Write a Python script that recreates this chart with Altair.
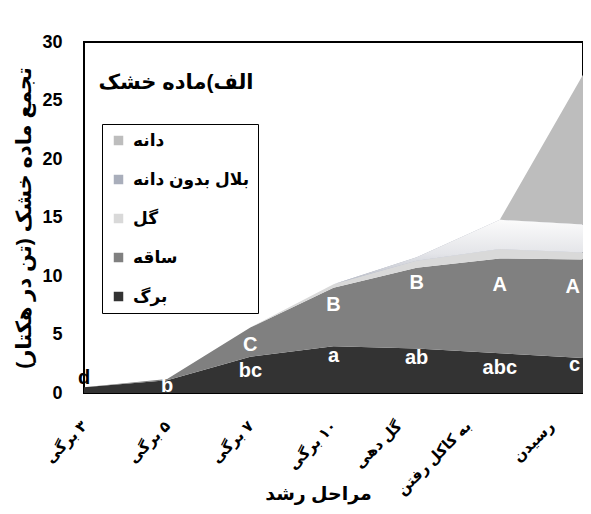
import altair as alt
import pandas as pd

# ---- data ----
stages = ["۳ برگی", "۵ برگی", "۷ برگی", "۱۰ برگی", "گل دهی", "به کاکل رفتن", "رسیدن"]
series_names = ["برگ", "ساقه", "گل", "بلال بدون دانه", "دانه"]
leaf = [0.5, 1.1, 3.1, 4.0, 3.8, 3.4, 3.0]
stem = [0.0, 0.1, 2.5, 5.0, 6.9, 8.1, 8.4]
flower = [0.0, 0.0, 0.0, 0.3, 0.6, 0.8, 0.6]
ear = [0.0, 0.0, 0.0, 0.0, 0.3, 2.5, 2.4]
grain = [0.0, 0.0, 0.0, 0.0, 0.0, 0.0, 12.8]

leaf_letters = ["d", "b", "bc", "a", "ab", "abc", "c"]
leaf_letter_y = [1.3, 0.6, 1.9, 3.2, 3.0, 2.1, 2.4]
stem_letters = ["", "", "C", "B", "B", "A", "A"]
stem_letter_y = [0, 0, 4.1, 7.5, 9.4, 9.2, 9.1]

legend_order = ["دانه", "بلال بدون دانه", "گل", "ساقه", "برگ"]
legend_colors = ["#bdbdbd", "#a9aebb", "#d9d9d9", "#808080", "#333333"]

FONT = "Liberation Sans, DejaVu Sans, sans-serif"
RLM = "\u200f"

# ---- build tables ----
rows = []
for i, st in enumerate(stages):
    base = 0.0
    for name, vals in zip(series_names, [leaf, stem, flower, ear, grain]):
        rows.append(dict(stage=st, series=name, y0=base, y1=base + vals[i], idx=i))
        base += vals[i]
df = pd.DataFrame(rows)

lab_rows = []
for i, st in enumerate(stages):
    lab_rows.append(dict(stage=st, letter=leaf_letters[i], y=leaf_letter_y[i], idx=i, kind="leaf"))
    if stem_letters[i]:
        lab_rows.append(dict(stage=st, letter=stem_letters[i], y=stem_letter_y[i], idx=i, kind="stem"))
labs = pd.DataFrame(lab_rows)

label_offset = {
    "condition": [
        {"test": f"datum.value === '{stages[4]}'", "value": -18},
        {"test": f"datum.value === '{stages[5]}' || datum.value === '{stages[6]}'", "value": -32},
    ],
    "value": 0,
}

x_enc = alt.X(
    "stage:N",
    sort=stages,
    scale=alt.Scale(type="point", padding=0),
    axis=alt.Axis(
        title="مراحل رشد",
        labelAngle=-45,
        labelAlign="right",
        labelBaseline="middle",
        labelPadding=30,
        labelOffset=label_offset,
        labelFontSize=15,
        labelFontWeight="bold",
        labelFont=FONT,
        labelColor="black",
        labelExpr=f"'{RLM}' + datum.label",
        ticks=False,
        domain=False,
        grid=False,
        titleFontSize=19,
        titleFont=FONT,
        titleFontWeight="bold",
        titleColor="black",
        titleX=234,
        titleY=100,
        titleBaseline="middle",
        labelOverlap=False,
    ),
)

y_scale = alt.Scale(domain=[0, 30], nice=False, zero=True)
y_enc = alt.Y(
    "y1:Q",
    scale=y_scale,
    axis=alt.Axis(
        title="تجمع ماده خشک (تن در هکتار)" + RLM,
        values=[0, 5, 10, 15, 20, 25, 30],
        ticks=False,
        domain=False,
        grid=False,
        labelFontSize=18,
        labelFontWeight="bold",
        labelFont=FONT,
        labelColor="black",
        labelPadding=22,
        titleFontSize=21,
        titleFont=FONT,
        titleFontWeight="bold",
        titleColor="black",
        titleX=-60,
        titleBaseline="middle",
    ),
)

areas = alt.Chart(df).mark_area(interpolate="linear", opacity=1).encode(
    x=x_enc,
    y=y_enc,
    y2="y0:Q",
    color=alt.Color(
        "series:N",
        scale=alt.Scale(domain=legend_order, range=legend_colors),
        legend=alt.Legend(
            title=None,
            orient="none",
            legendX=18,
            legendY=82,
            symbolType="square",
            symbolSize=90,
            symbolStrokeWidth=0,
            labelFontSize=17,
            labelFont=FONT,
            labelFontWeight="bold",
            labelColor="black",
            labelOffset=6,
            rowPadding=21,
            padding=8,
            strokeColor="black",
            labelLimit=300,
        ),
    ),
)

ear_grad = alt.Chart(df).transform_filter(
    alt.datum.series == "بلال بدون دانه"
).mark_area(
    interpolate="linear",
    color=alt.Gradient(
        gradient="linear",
        stops=[
            alt.GradientStop(color="#fbfbfb", offset=0),
            alt.GradientStop(color="#e4e5e9", offset=0.2),
            alt.GradientStop(color="#b0b4c0", offset=0.42),
            alt.GradientStop(color="#a8acb8", offset=1),
        ],
        x1=0, x2=0, y1=0, y2=1,
    ),
).encode(
    x=alt.X("stage:N", sort=stages),
    y=alt.Y("y1:Q"),
    y2="y0:Q",
)

txt_common = dict(fontSize=20, fontWeight="bold", font=FONT, baseline="middle")

lab_mid = alt.Chart(labs).transform_filter(
    (alt.datum.idx > 0) & (alt.datum.idx < 6)
).mark_text(color="white", align="center", **txt_common).encode(
    x=alt.X("stage:N", sort=stages), y=alt.Y("y:Q"), text="letter:N"
)
lab_first = alt.Chart(labs).transform_filter(
    alt.datum.idx == 0
).mark_text(color="black", align="center", **txt_common).encode(
    x=alt.X("stage:N", sort=stages), y=alt.Y("y:Q"), text="letter:N"
)
lab_last = alt.Chart(labs).transform_filter(
    alt.datum.idx == 6
).mark_text(color="white", align="right", dx=-3, **txt_common).encode(
    x=alt.X("stage:N", sort=stages), y=alt.Y("y:Q"), text="letter:N"
)

title_txt = alt.Chart(pd.DataFrame({"t": ["الف)ماده خشک"]})).mark_text(
    fontSize=21, fontWeight="bold", font=FONT, color="black", align="center", baseline="middle"
).encode(text="t:N", x=alt.value(92), y=alt.value(41))

chart = alt.layer(areas, ear_grad, lab_mid, lab_first, lab_last, title_txt).properties(
    width=499,
    height=351,
    padding={"left": 76, "top": 34, "right": 0, "bottom": 113},
    autosize=alt.AutoSizeParams(type="none"),
).configure_view(stroke="black", strokeWidth=2)

chart.save("out.html", embed_options={"renderer": "svg", "actions": False})
